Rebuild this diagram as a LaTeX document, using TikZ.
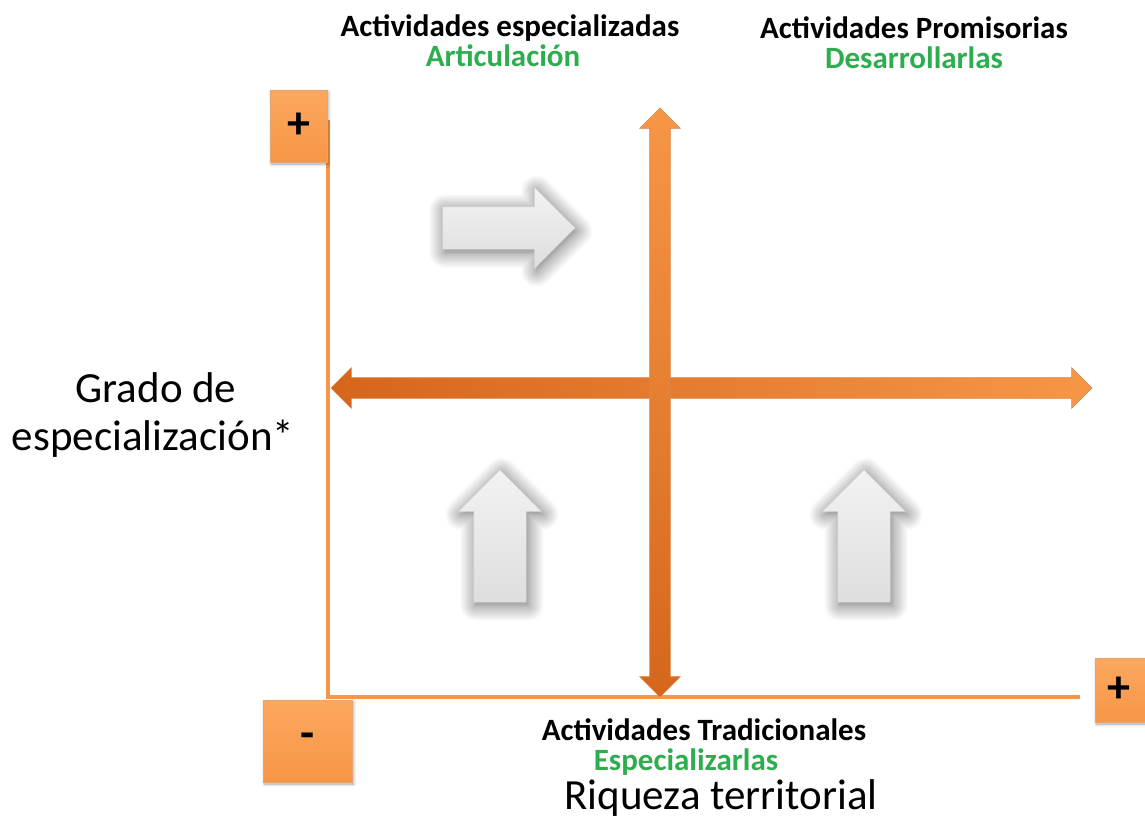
\documentclass[tikz,border=0pt]{standalone}
\usepackage{fontspec}
\setmainfont{Carlito}
\usepackage{tikz}
\usetikzlibrary{shapes.arrows,shadows.blur}
\definecolor{ejeorange}{HTML}{F79646}
\definecolor{ejedark}{HTML}{D5661C}
\definecolor{ejelight}{HTML}{FBA85F}
\definecolor{accgreen}{HTML}{2EAD4F}

\begin{document}
\begin{tikzpicture}[x=1pt, y=-1pt,
    signbox/.style={draw=ejedark!60, line width=0.8pt, top color=ejelight, bottom color=ejeorange, inner sep=0pt, font=\fontsize{46}{46}\selectfont\bfseries,
        blur shadow={shadow xshift=1.5pt, shadow yshift=-2pt, shadow blur radius=3pt, shadow opacity=35}},
    eje/.style={draw=ejedark!80, line width=0.6pt, double arrow, inner sep=10pt, minimum width=40pt, double arrow head extend=10pt},
    flecha/.style={single arrow, draw=gray!30, line width=0.3pt, top color=gray!10, bottom color=gray!26, anchor=tip,
        blur shadow={shadow xshift=2pt, shadow yshift=-3pt, shadow blur radius=16pt, shadow blur steps=14, shadow opacity=60}},
    lbl/.style={font=\fontsize{31}{33}\selectfont\bfseries, anchor=base},
    glbl/.style={lbl, text=accgreen},
    axlbl/.style={font=\fontsize{43}{46}\selectfont, anchor=base},
]
\useasboundingbox (0,0) rectangle (1145,827);

% ejes finos
\coordinate (yTop) at (328,120);
\coordinate (o) at (328,697);
\coordinate (xEnd) at (1080,697);
\draw[ejeorange, line width=4pt] (yTop) -- (o) -- (xEnd);

% signos
\node[signbox, minimum width=57pt, minimum height=72pt] (bPlusY) at (298.5,126) {+};
\node[signbox, minimum width=89pt, minimum height=82pt] (bMinus) at (307.5,741) {-};
\node[signbox, minimum width=54pt, minimum height=64pt] (bPlusX) at (1122,690) {\hspace*{-6pt}+};

% ejes gruesos
\node[eje, left color=ejedark, right color=ejeorange, minimum height=761pt] (hArr) at (711.5,388) {};
\node[eje, shape border rotate=90, top color=ejeorange, bottom color=ejedark, minimum height=589pt] (vArr) at (660,402.5) {};

% flechas grises
\node[flecha, inner sep=21pt, minimum width=80pt, minimum height=132pt, single arrow head extend=19pt] (gRight) at (575,228) {};
\node[flecha, inner sep=26pt, shape border rotate=90, minimum width=82pt, minimum height=132pt, single arrow head extend=15pt] (gUpL) at (500,470) {};
\node[flecha, inner sep=26pt, shape border rotate=90, minimum width=82pt, minimum height=132pt, single arrow head extend=15pt] (gUpR) at (864,470) {};

% cuadrantes
\node[lbl] (tEsp) at (510,36) {Actividades especializadas};
\node[glbl] (tArt) at (503,66) {Articulación};
\node[lbl] (tProm) at (914,38) {Actividades Promisorias};
\node[glbl] (tDes) at (914,68) {Desarrollarlas};
\node[lbl] (tTrad) at (704,740) {Actividades Tradicionales};
\node[glbl] (tEspz) at (686,770) {Especializarlas};

% titulos de ejes
\node[axlbl] (xTit) at (721,809) {Riqueza territorial};
\node[axlbl] (yTit1) at (156,402) {Grado de};
\node[axlbl] (yTit2) at (153,450) {especialización*};
\end{tikzpicture}
\end{document}
